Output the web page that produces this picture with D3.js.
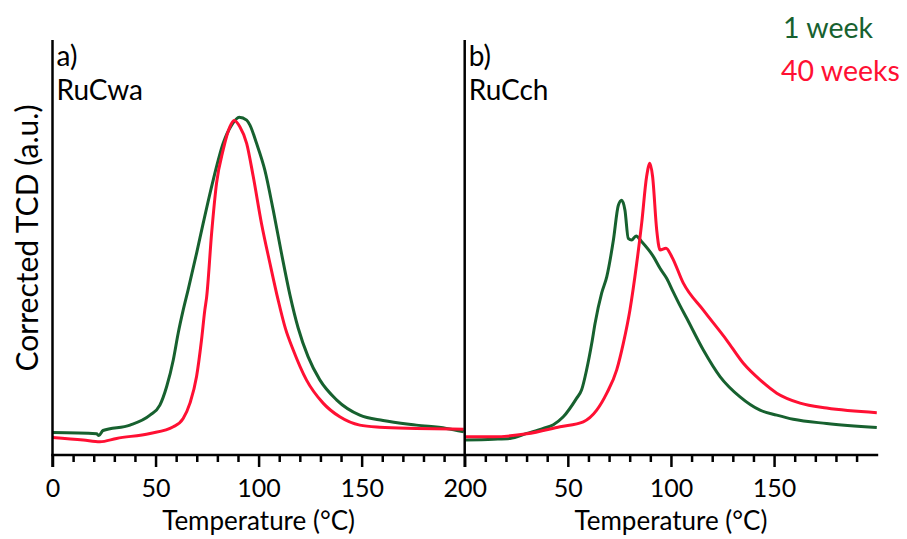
<!DOCTYPE html>
<html>
<head>
<meta charset="utf-8">
<script src="https://cdn.jsdelivr.net/npm/d3@7"></script>
<style>
  html, body { margin: 0; padding: 0; background: #ffffff; }
  svg { display: block; font-family: Lato, "Open Sans", sans-serif; }
</style>
</head>
<body>
<svg id="chart" width="907" height="539"></svg>
<script>
// TPR traces, corrected TCD signal (a.u.) versus temperature (°C)
const temperatureA1 = [0, 21.4, 22.5, 24.5, 37.6, 47.3, 52.1, 55.4, 58.6, 61.0, 63.4, 65.8, 69.9, 73.1, 78.0, 82.8, 86.9, 90.6, 94.2, 95.8, 99.0, 103.0, 107.1, 111.1, 115.2, 119.2, 124.0, 129.7, 137.8, 149.1, 160.4, 176.6, 191.1, 199.5];
const signalA1      = [5.4, 5.1, 4.7, 5.9, 7.2, 9.6, 12.0, 16.5, 22.9, 29.4, 34.9, 39.8, 48.6, 55.8, 66.3, 75.1, 79.5, 81.4, 80.7, 79.5, 75.1, 68.7, 59.0, 48.6, 38.6, 30.6, 23.7, 18.1, 13.3, 9.6, 8.3, 7.2, 6.4, 5.6];

const temperatureA40 = [0, 14.9, 23.0, 31.1, 47.3, 58.6, 63.4, 66.7, 69.9, 72.3, 73.9, 74.8, 77.2, 79.6, 82.8, 86.1, 88.1, 90.9, 94.2, 97.4, 101.4, 105.5, 109.5, 113.0, 116.8, 123.2, 131.3, 139.4, 149.1, 158.8, 176.6, 199.5];
const signalA40      = [4.2, 3.6, 3.2, 4.0, 5.2, 6.8, 8.8, 12.5, 18.9, 27.7, 34.9, 38.1, 53.4, 65.5, 73.5, 79.1, 80.6, 79.1, 75.1, 67.1, 55.8, 46.2, 37.3, 30.5, 25.3, 18.1, 12.5, 9.2, 7.2, 6.7, 6.4, 6.2];

const temperatureB1 = [0, 13.9, 22.0, 30.1, 38.1, 43.0, 47.8, 54.3, 56.7, 59.1, 61.6, 63.2, 66.4, 68.9, 72.1, 74.5, 76.1, 77.7, 79.3, 81.0, 83.1, 85.8, 91.5, 94.7, 97.9, 101.1, 104.4, 107.6, 115.7, 123.8, 133.5, 143.2, 151.3, 159.3, 175.5, 199.8];
const signalB1      = [3.6, 3.8, 4.0, 5.2, 6.4, 7.3, 9.2, 13.7, 15.7, 20.5, 26.9, 31.7, 39.0, 43.0, 51.8, 60.2, 61.4, 59.0, 52.2, 51.8, 52.8, 51.4, 47.8, 45.0, 42.6, 39.3, 36.0, 33.0, 25.3, 18.9, 14.0, 10.8, 9.6, 8.6, 7.6, 6.6];

const temperatureB40 = [0, 13.9, 30.1, 46.2, 57.5, 64.0, 68.9, 73.7, 76.9, 80.1, 83.4, 85.8, 88.2, 89.8, 91.1, 93.1, 94.7, 97.6, 100.4, 106.0, 115.7, 127.0, 135.1, 143.2, 151.3, 162.6, 175.5, 199.8];
const signalB40      = [4.4, 4.4, 5.1, 6.8, 8.0, 10.8, 14.9, 20.5, 26.9, 34.9, 46.2, 55.8, 67.1, 70.3, 67.1, 54.2, 49.4, 49.8, 47.8, 41.4, 34.9, 27.7, 22.1, 18.1, 14.9, 12.5, 11.3, 10.2];

const panelLetters = ["a)", "b)"];
const panelSamples = ["RuCwa", "RuCch"];
const seriesNames  = ["1 week", "40 weeks"];
const seriesColors = ["#17612f", "#ff1033"];
const majorTicksA = [0, 50, 100, 150, 200];
const majorTicksB = [50, 100, 150];
const xTitle = "Temperature (°C)";
const yTitle = "Corrected TCD (a.u.)";

const svg = d3.select("#chart");
const plotTop = 40, plotBottom = 455;
const y = d3.scaleLinear().domain([0, 100]).range([plotBottom, plotTop]);

const panels = [
  { x: d3.scaleLinear().domain([0, 200]).range([52.5, 464.7]), major: majorTicksA, minorMax: 200,
    series: [[temperatureA1, signalA1], [temperatureA40, signalA40]] },
  { x: d3.scaleLinear().domain([0, 200]).range([464.7, 877.2]), major: majorTicksB, minorMax: 190,
    series: [[temperatureB1, signalB1], [temperatureB40, signalB40]] }
];

const line = (xs) => d3.line()
  .x(d => xs(d[0]))
  .y(d => y(d[1]))
  .curve(d3.curveMonotoneX);

panels.forEach((p, i) => {
  // traces
  p.series.forEach((s, k) => {
    const pts = s[0].map((t, j) => [t, s[1][j]]);
    svg.append("path")
      .datum(pts)
      .attr("d", line(p.x))
      .attr("fill", "none")
      .attr("stroke", seriesColors[k])
      .attr("stroke-width", 3)
      .attr("stroke-linejoin", "round");
  });

  // minor ticks
  const minor = d3.range(10, p.minorMax + 1, 10).filter(v => v % 50 !== 0);
  svg.append("g")
    .attr("transform", `translate(0,${plotBottom})`)
    .call(d3.axisBottom(p.x).tickValues(minor).tickSize(7).tickFormat(""))
    .call(g => g.select(".domain").remove())
    .call(g => g.selectAll("line").attr("stroke", "#000").attr("stroke-width", 2.5));

  // major ticks with labels
  svg.append("g")
    .attr("transform", `translate(0,${plotBottom})`)
    .call(d3.axisBottom(p.x).tickValues(p.major).tickSize(12).tickPadding(12).tickFormat(d3.format("d")))
    .call(g => g.select(".domain").remove())
    .call(g => g.selectAll("line").attr("stroke", "#000").attr("stroke-width", 2.5))
    .call(g => g.selectAll("text")
      .attr("fill", "#000")
      .style("font-size", "25px")
      .style("font-family", "Lato, sans-serif"));

  // vertical axis line
  svg.append("line")
    .attr("x1", p.x(0)).attr("x2", p.x(0))
    .attr("y1", plotTop).attr("y2", plotBottom + 12)
    .attr("stroke", "#000").attr("stroke-width", 2.5);

  // panel labels
  svg.append("text")
    .attr("x", p.x(0) + 4).attr("y", 66)
    .attr("font-size", 28).attr("fill", "#000")
    .text(panelLetters[i]);
  svg.append("text")
    .attr("x", p.x(0) + 4).attr("y", 100)
    .attr("font-size", 28).attr("fill", "#000")
    .text(panelSamples[i]);

  // x title
  svg.append("text")
    .attr("x", (p.x(0) + p.x(200)) / 2).attr("y", 530)
    .attr("text-anchor", "middle")
    .attr("font-size", 26).attr("fill", "#000")
    .text(xTitle);
});

// shared baseline
svg.append("line")
  .attr("x1", panels[0].x(0) - 1.25).attr("x2", panels[1].x(200) + 1)
  .attr("y1", plotBottom).attr("y2", plotBottom)
  .attr("stroke", "#000").attr("stroke-width", 2.5);

// y title
svg.append("text")
  .attr("transform", `translate(38,238) rotate(-90)`)
  .attr("text-anchor", "middle")
  .attr("font-size", 30).attr("fill", "#000")
  .text(yTitle);

// legend
seriesNames.forEach((name, k) => {
  svg.append("text")
    .attr("x", k === 0 ? 783 : 781).attr("y", k === 0 ? 38 : 81)
    .attr("font-size", 28.5).attr("fill", seriesColors[k])
    .text(name);
});
</script>
</body>
</html>
